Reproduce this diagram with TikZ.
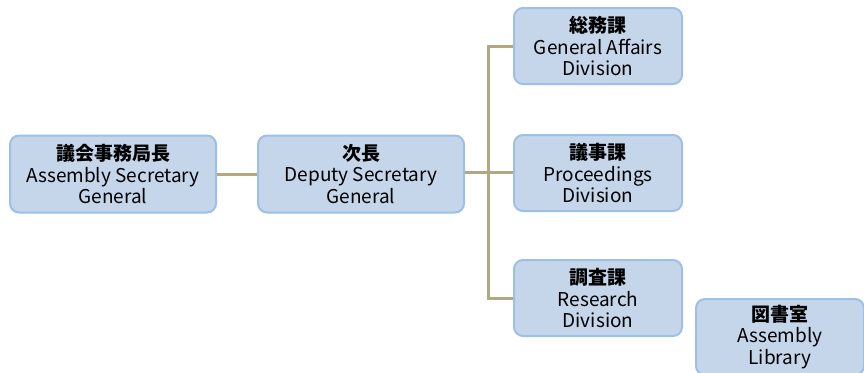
\documentclass[tikz,border=0pt]{standalone}
\usepackage{fontspec}
\setmainfont{Noto Sans CJK JP}
\definecolor{boxfill}{RGB}{197,214,234}
\definecolor{boxline}{RGB}{157,192,230}
\definecolor{linkline}{RGB}{178,168,130}

\begin{document}
\begin{tikzpicture}[%
      x=1pt, y=-1pt,
      unit/.style={draw=boxline, fill=boxfill, line width=2pt, rounded corners=9pt,
        minimum width=206pt, minimum height=77pt, inner sep=0pt, align=center,
        font=\fontsize{19}{21.5}\selectfont},
      division/.style={unit, minimum width=168pt, minimum height=76pt},
      link/.style={color=linkline, line width=3pt},
      ]
      \useasboundingbox (0,0) rectangle (864,372);

      % top of the office
      \node[unit] (chief) at (113,174) {\textbf{議会事務局長}\\Assembly Secretary\\General};
      \node[unit] (deputy) at (361,174) {\textbf{次長}\\Deputy Secretary\\General};

      % divisions
      \node[division] (affairs) at (598,46) {\textbf{総務課}\\General Affairs\\Division};
      \node[division] (proceedings) at (598,173) {\textbf{議事課}\\Proceedings\\Division};
      \node[division] (research) at (598,298) {\textbf{調査課}\\Research\\Division};
      \node[division] (library) at (780,337) {\textbf{図書室}\\Assembly\\Library};

      \coordinate (branch) at (488,172);

      \begin{scope}[on background layer/.try]
      \draw[link] (chief) -- (deputy);
      \draw[link] (deputy.east |- branch) -- (proceedings.west |- branch);
      \draw[link] (affairs.west) -| (branch) |- (research.west);
      \end{scope}
      \end{tikzpicture}
\end{document}
